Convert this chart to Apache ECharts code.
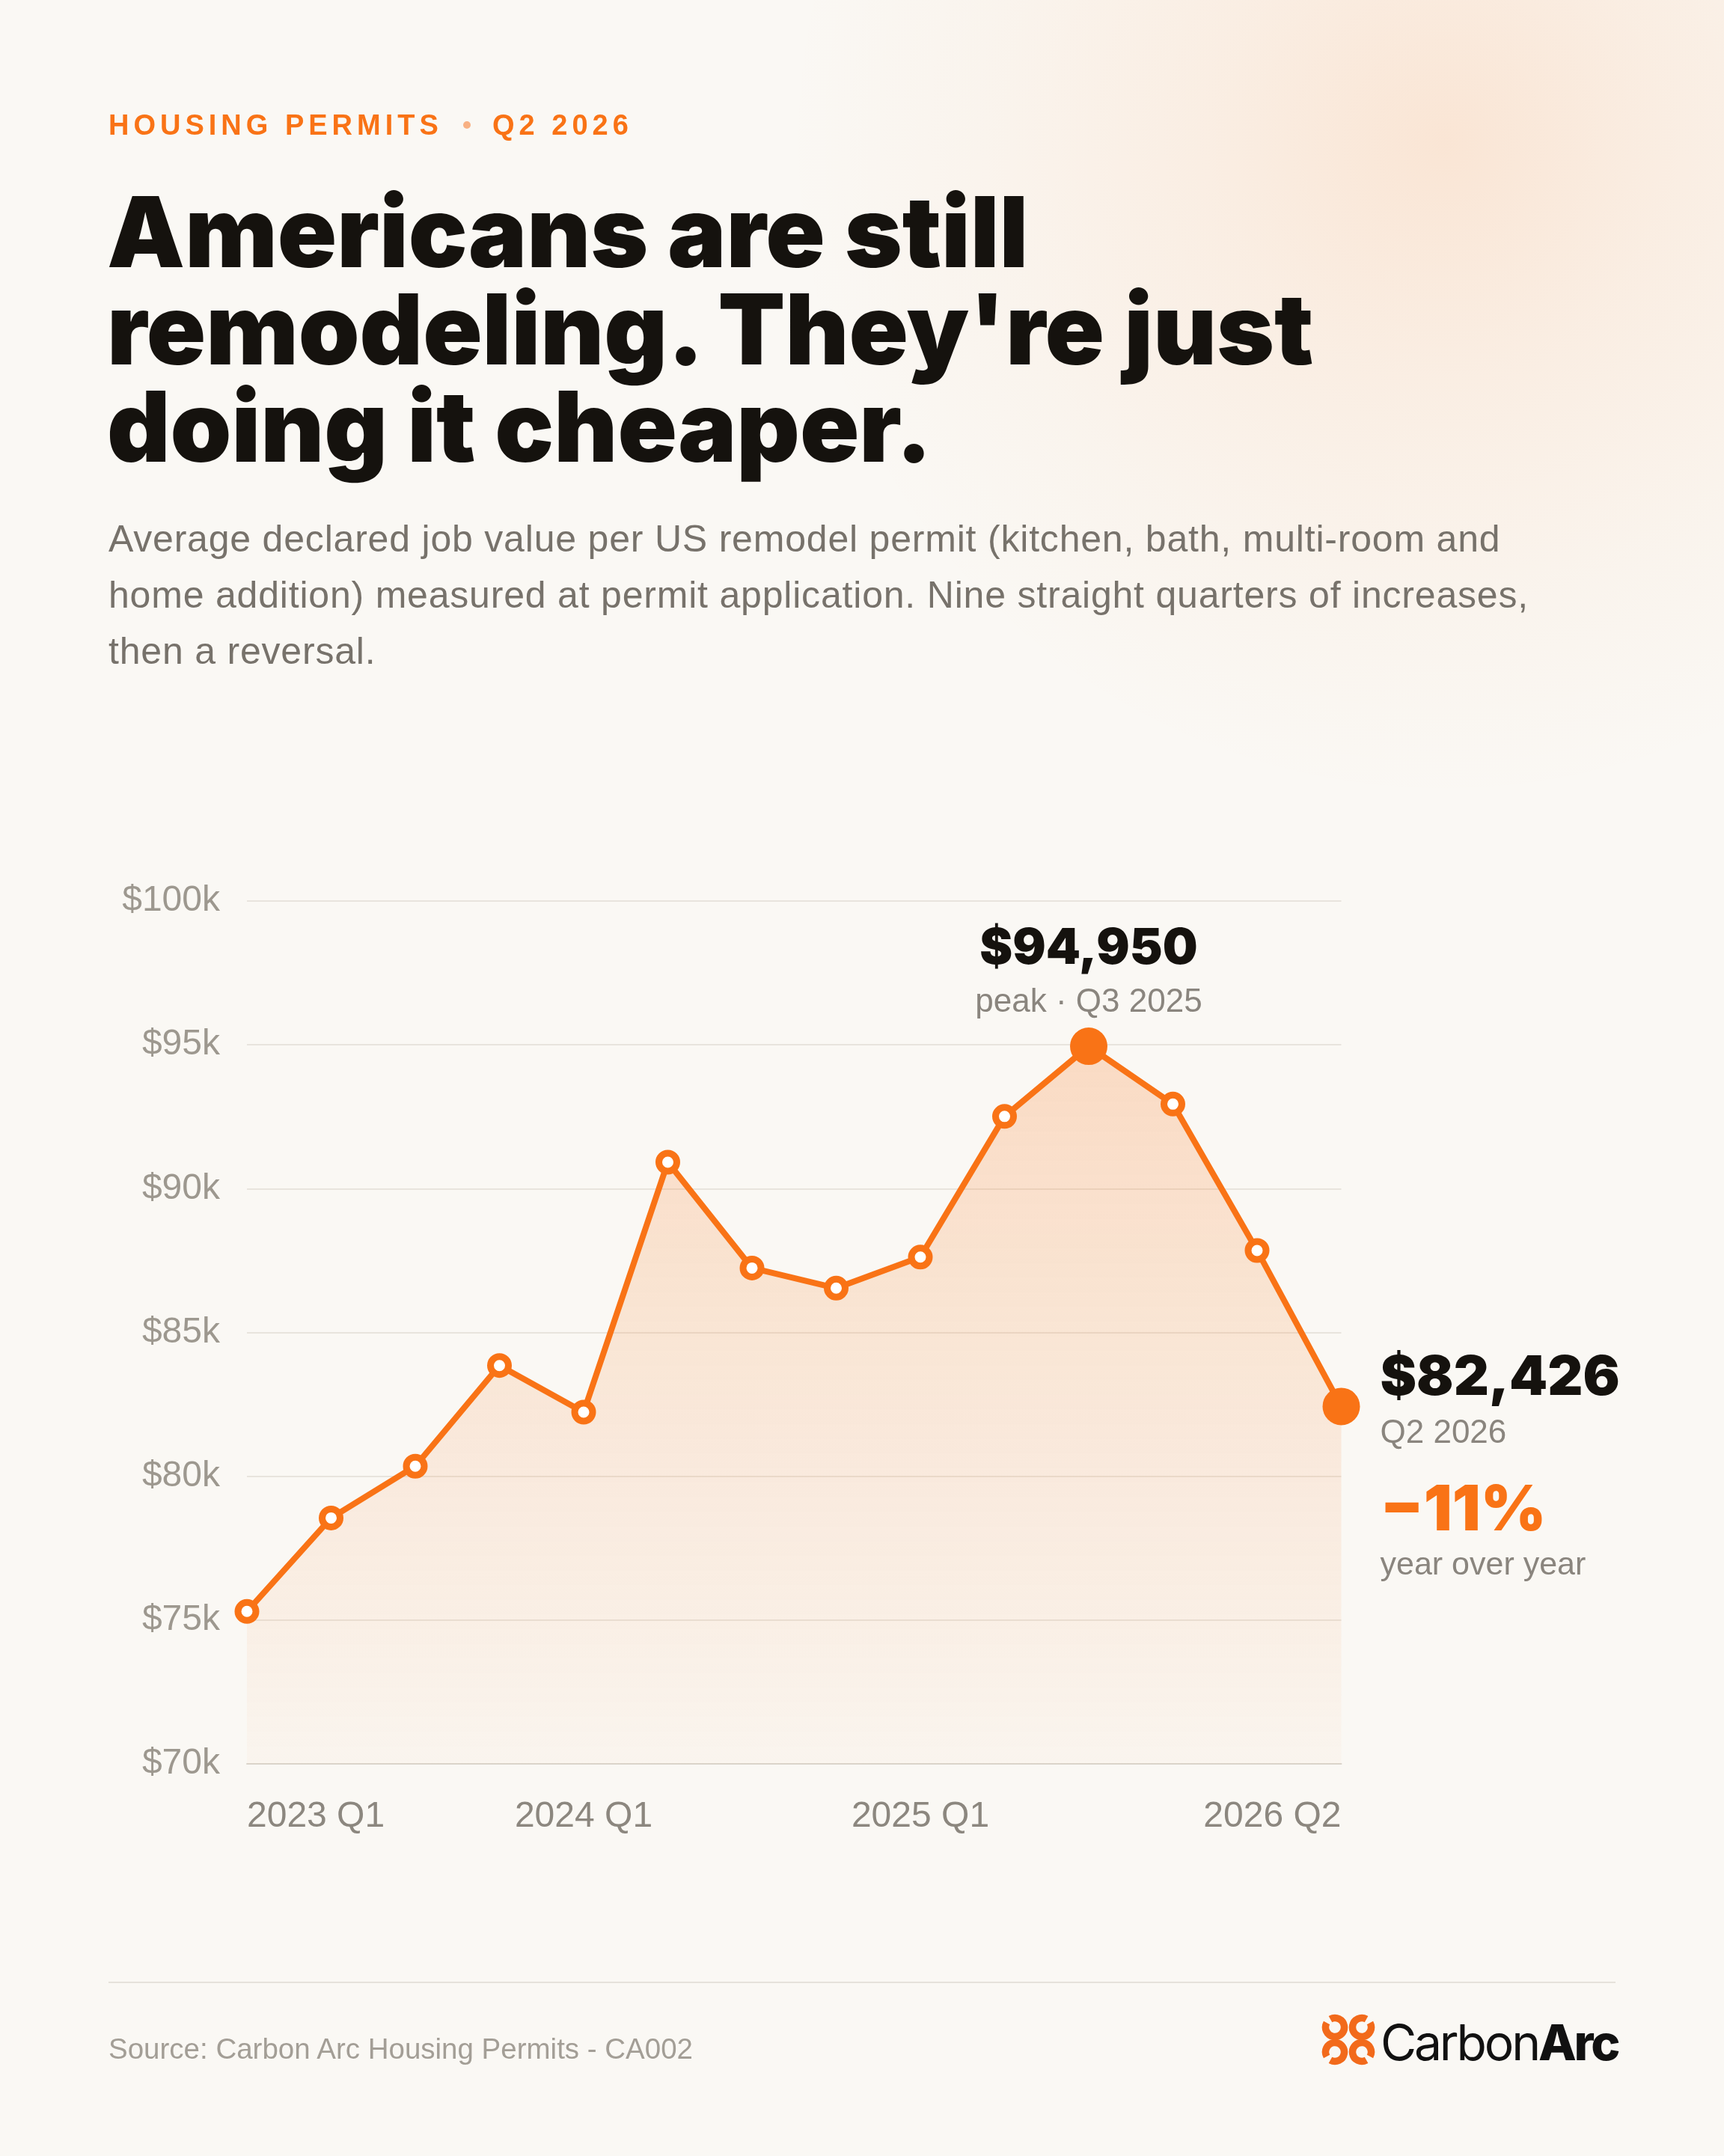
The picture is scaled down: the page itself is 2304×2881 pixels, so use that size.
<!DOCTYPE html>
<html>
<head>
<meta charset="utf-8">
<script src="https://cdn.jsdelivr.net/npm/echarts@6/dist/echarts.min.js"></script>
<style>
  html, body { margin: 0; padding: 0; }
  body {
    width: 2304px; height: 2881px; overflow: hidden; position: relative;
    background:
      radial-gradient(circle 880px at 1930px 190px, rgba(249,115,22,0.14) 0%, rgba(249,115,22,0.08) 35%, rgba(249,115,22,0.03) 70%, rgba(249,115,22,0) 100%),
      #FAF8F4;
  }
  #chart { position: absolute; left: 0; top: 0; width: 2304px; height: 2881px; }
  .abs { position: absolute; white-space: nowrap; }
  .tag { font-family: "Liberation Sans", Arial, sans-serif; font-weight: 700; font-size: 38px; line-height: 38px; letter-spacing: 6px; color: #F97316; }
  .dot { width: 10px; height: 10px; border-radius: 50%; background: #F8B184; }
  .title { font-family: Inter, "Noto Sans", sans-serif; font-weight: 900; font-size: 131px; line-height: 130px; letter-spacing: 0px; color: #15120E; }
  .sub { font-family: "Liberation Sans", Arial, sans-serif; font-size: 50px; line-height: 75px; letter-spacing: 0.8px; color: #77726B; }
  .rule { background: #E6E2DB; height: 2px; }
  .src { font-family: "Liberation Sans", Arial, sans-serif; font-size: 38.5px; line-height: 37px; color: #A39E96; }
  .logo { font-family: Inter, "Noto Sans", sans-serif; font-size: 66px; line-height: 66px; letter-spacing: -3.2px; color: #111; }
  .logo b { font-weight: 800; }
  .logo span { font-weight: 400; }
</style>
</head>
<body>
<div id="chart"></div>

<div class="abs tag" style="left:145px; top:148px;">HOUSING PERMITS</div>
<div class="abs dot" style="left:619px; top:162px;"></div>
<div class="abs tag" style="left:658px; top:148px;">Q2 2026</div>

<div class="abs title" style="left:143px; top:245px;">Americans are still<br>remodeling. They're just<br>doing it cheaper.</div>

<div class="abs sub" style="left:145px; top:683px;">Average declared job value per US remodel permit (kitchen, bath, multi-room and<br>home addition) measured at permit application. Nine straight quarters of increases,<br>then a reversal.</div>

<div class="abs rule" style="left:145px; top:2648px; width:2014px;"></div>
<div class="abs src" style="left:145px; top:2719px;">Source: Carbon Arc Housing Permits - CA002</div>

<svg class="abs" id="logoIcon" style="left:1766px; top:2691px;" width="72" height="70" viewBox="0 0 72 70"></svg>
<div class="abs logo" style="left:1845px; top:2696px;"><span>Carbon</span><b>Arc</b></div>

<script>
// ---- data ----
const categories = ['2023 Q1','2023 Q2','2023 Q3','2023 Q4','2024 Q1','2024 Q2','2024 Q3','2024 Q4','2025 Q1','2025 Q2','2025 Q3','2025 Q4','2026 Q1','2026 Q2'];
const values = [75300, 78550, 80350, 83850, 82230, 90920, 87240, 86540, 87620, 92510, 94950, 92940, 87850, 82426];
const yMin = 70000, yMax = 100000, yStep = 5000;
const xLabelIndices = [0, 4, 8, 13];
const peakIndex = 10;
const lastIndex = 13;
const peakCaption = 'peak · Q3 2025';
const lastCaption = 'Q2 2026';
const yoyText = '−11%';
const yoyCaption = 'year over year';

const ORANGE = '#F97316';
const INK = '#15120E';
const GRAY = '#8A857E';

// logo icon rings
(function () {
  const svg = document.getElementById('logoIcon');
  const rings = [[18, 18, 225], [54, 18, 315], [18, 51, 135], [54, 51, 45]];
  const r = 12.5, gap = 16;
  let html = '';
  rings.forEach(([cx, cy, ang]) => {
    const a1 = (ang + gap) * Math.PI / 180, a2 = (ang - gap + 360) * Math.PI / 180;
    const x1 = cx + r * Math.cos(a1), y1 = cy + r * Math.sin(a1);
    const x2 = cx + r * Math.cos(a2), y2 = cy + r * Math.sin(a2);
    html += `<path d="M${x1.toFixed(2)} ${y1.toFixed(2)} A${r} ${r} 0 1 1 ${x2.toFixed(2)} ${y2.toFixed(2)}" fill="none" stroke="#F26A1B" stroke-width="9.5"/>`;
  });
  svg.innerHTML = html;
})();

const fmtMoney = v => '$' + Math.round(v).toLocaleString('en-US');

const chart = echarts.init(document.getElementById('chart'), null, { renderer: 'canvas' });

const seriesData = values.map((v, i) => {
  if (i === peakIndex || i === lastIndex) {
    return { value: v, symbolSize: 50, itemStyle: { color: ORANGE, borderColor: ORANGE, borderWidth: 0 } };
  }
  return v;
});

chart.setOption({
  backgroundColor: 'transparent',
  animation: false,
  grid: { left: 330, right: 511.5, top: 1204, bottom: 524 },
  xAxis: {
    type: 'category',
    data: categories,
    boundaryGap: false,
    axisLine: { show: true, lineStyle: { color: '#DAD5CC', width: 2 } },
    axisTick: { show: false },
    splitLine: { show: false },
    axisLabel: {
      interval: (idx) => xLabelIndices.includes(idx),
      color: '#8C877F',
      fontFamily: '"Liberation Sans", Arial, sans-serif',
      fontSize: 48,
      margin: 47,
      alignMinLabel: 'left',
      alignMaxLabel: 'right'
    }
  },
  yAxis: {
    type: 'value',
    min: yMin, max: yMax, interval: yStep,
    axisLine: { show: false },
    axisTick: { show: false },
    splitLine: { show: true, lineStyle: { color: '#E8E4DD', width: 2 } },
    axisLabel: {
      formatter: v => '$' + (v / 1000) + 'k',
      color: '#9D988F',
      fontFamily: '"Liberation Sans", Arial, sans-serif',
      fontSize: 48,
      margin: 36,
      padding: [8, 0, 0, 0]
    }
  },
  series: [{
    type: 'line',
    data: seriesData,
    smooth: false,
    symbol: 'circle',
    symbolSize: 24,
    showAllSymbol: true,
    lineStyle: { color: ORANGE, width: 8 },
    itemStyle: { color: '#FFFFFF', borderColor: ORANGE, borderWidth: 9 },
    areaStyle: {
      color: new echarts.graphic.LinearGradient(0, 0, 0, 1, [
        { offset: 0, color: 'rgba(249,115,22,0.31)' },
        { offset: 1, color: 'rgba(249,115,22,0.035)' }
      ])
    },
    emphasis: { disabled: true },
    z: 3
  }]
});

const [px, py] = chart.convertToPixel({ gridIndex: 0 }, [peakIndex, values[peakIndex]]);
const [lx, ly] = chart.convertToPixel({ gridIndex: 0 }, [lastIndex, values[lastIndex]]);

const bigFont = { fontFamily: 'Inter, "Noto Sans", sans-serif', fontWeight: 900 };
const smallFont = { fontFamily: '"Liberation Sans", Arial, sans-serif', fontWeight: 400 };

chart.setOption({
  graphic: [
    { type: 'text', x: px, y: py - 130, z: 10,
      style: Object.assign({ text: fmtMoney(values[peakIndex]), fontSize: 66, fill: INK, align: 'center', verticalAlign: 'middle' }, bigFont) },
    { type: 'text', x: px, y: py - 58, z: 10,
      style: Object.assign({ text: peakCaption, fontSize: 44, fill: GRAY, align: 'center', verticalAlign: 'middle' }, smallFont) },
    { type: 'text', x: lx + 52, y: ly - 37, z: 10,
      style: Object.assign({ text: fmtMoney(values[lastIndex]), fontSize: 73, fill: INK, align: 'left', verticalAlign: 'middle' }, bigFont) },
    { type: 'text', x: lx + 52, y: ly + 36, z: 10,
      style: Object.assign({ text: lastCaption, fontSize: 44, fill: GRAY, align: 'left', verticalAlign: 'middle' }, smallFont) },
    { type: 'text', x: lx + 52, y: ly + 140, z: 10,
      style: Object.assign({ text: yoyText, fontSize: 84, fill: ORANGE, align: 'left', verticalAlign: 'middle' }, bigFont) },
    { type: 'text', x: lx + 52, y: ly + 213, z: 10,
      style: Object.assign({ text: yoyCaption, fontSize: 43, fill: GRAY, align: 'left', verticalAlign: 'middle' }, smallFont) }
  ]
});
</script>
</body>
</html>
